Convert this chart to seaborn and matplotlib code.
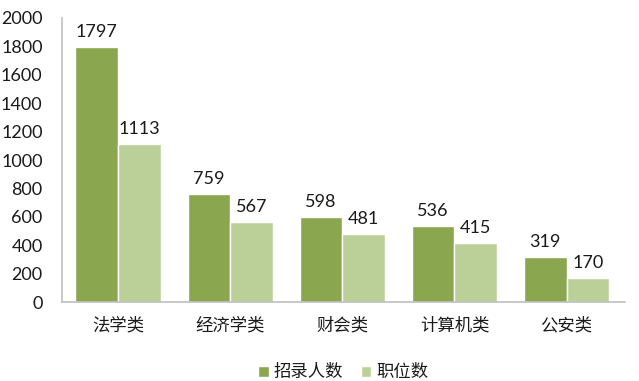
import matplotlib
matplotlib.use("Agg")
import matplotlib.pyplot as plt
import pandas as pd
import seaborn as sns

categories = ["法学类", "经济学类", "财会类", "计算机类", "公安类"]
hires = [1797, 759, 598, 536, 319]
positions = [1113, 567, 481, 415, 170]
series_names = ["招录人数", "职位数"]
colors = ["#8aa64e", "#bbd098"]

df = pd.DataFrame({
    "类别": categories * 2,
    "数量": hires + positions,
    "系列": [series_names[0]] * len(categories) + [series_names[1]] * len(categories),
})

sns.set_style("white")
plt.rcParams["font.family"] = ["Noto Sans CJK SC", "DejaVu Sans"]

fig = plt.figure(figsize=(6.39, 3.81), dpi=100)
ax = fig.add_axes([0.097, 0.207, 0.881, 0.746])

sns.barplot(data=df, x="类别", y="数量", hue="系列", palette=colors, saturation=1,
            width=0.76, edgecolor="white", linewidth=1.0, ax=ax, legend=True)

for cont in ax.containers:
    ax.bar_label(cont, padding=5, fontsize=13, family="Lato", color="#1a1a1a")

ax.set_ylim(0, 2000)
ax.set_xlim(-0.5, 4.52)
ax.set_yticks(range(0, 2001, 200))
ax.tick_params(axis="y", labelsize=13, length=0, pad=14, labelcolor="#1a1a1a")
ax.tick_params(axis="x", labelsize=12.5, length=0, pad=10, labelcolor="#1a1a1a")
for lab in ax.get_yticklabels():
    lab.set_family("Lato")
ax.set_xlabel("")
ax.set_ylabel("")
for s in ["top", "right"]:
    ax.spines[s].set_visible(False)
for s in ["left", "bottom"]:
    ax.spines[s].set_color("#bfbfbf")
    ax.spines[s].set_linewidth(1.2)

ax.legend(loc="upper center", bbox_to_anchor=(0.5, -0.16), ncol=2, frameon=False,
          fontsize=12.5, handlelength=0.6, handleheight=0.6, handletextpad=0.3,
          columnspacing=1.0, labelcolor="#1a1a1a")

fig.savefig("out.png", dpi=100)
